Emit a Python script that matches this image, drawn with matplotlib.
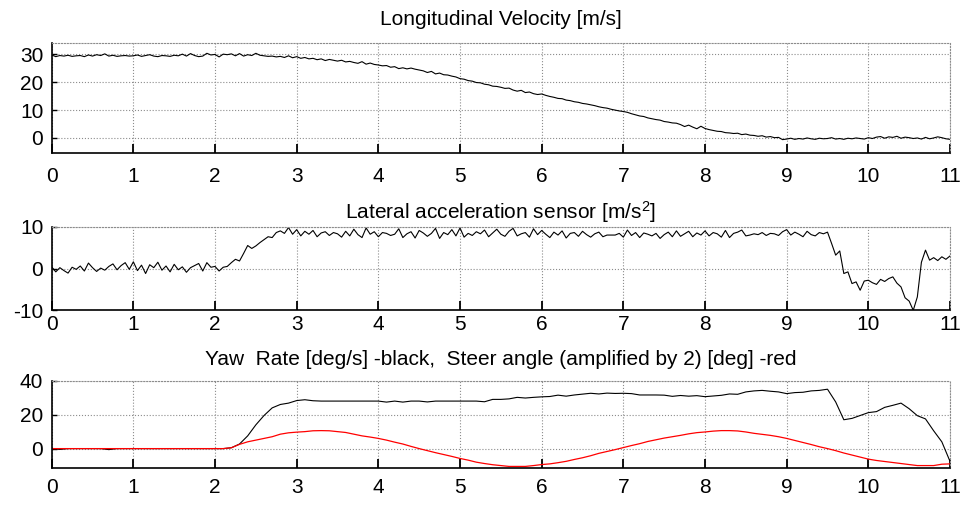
import numpy as np
import matplotlib.pyplot as plt

plt.rcParams['font.family'] = ['Liberation Sans', 'DejaVu Sans']
plt.rcParams['mathtext.fontset'] = 'custom'
plt.rcParams['mathtext.rm'] = 'Liberation Sans'
plt.rcParams['mathtext.default'] = 'regular'
plt.rcParams['axes.unicode_minus'] = False

# --- data (t = 0 .. 11 s) ---
t_fast = np.arange(221) * 0.05
t_slow = np.arange(111) * 0.1

velocity = [
    29.8, 29.2, 29.6, 29.4, 29.7, 29.3, 29.5, 29.6, 29.2, 29.8, 29.4, 29.9, 29.6, 30.2, 29.4, 29.7, 29.3, 29.5, 29.6, 29.4,
    29.5, 29.8, 29.3, 29.6, 29.9, 29.4, 29.2, 29.6, 29.5, 29.3, 29.7, 29.5, 30.1, 29.4, 30.3, 29.6, 29.2, 29.4, 30.4, 29.8,
    30.0, 29.1, 30.1, 29.9, 30.2, 29.5, 30.3, 29.4, 29.9, 29.6, 30.4, 29.7, 29.5, 29.3, 29.4, 29.1, 29.3, 28.9, 29.5, 28.8,
    29.2, 28.6, 28.9, 28.4, 28.6, 28.1, 28.4, 27.8, 28.2, 27.9, 27.6, 27.9, 27.3, 27.5, 27.1, 26.8, 27.4, 26.5, 26.9, 26.4,
    26.2, 25.9, 26.0, 25.4, 25.6, 24.9, 25.2, 24.8, 25.1, 24.7, 24.4, 24.1, 23.5, 23.9, 23.0, 23.3, 22.7, 22.6, 22.2, 21.9,
    21.3, 21.1, 20.6, 20.4, 19.9, 19.8, 19.3, 19.1, 18.6, 18.5, 18.2, 17.8, 17.9, 17.2, 16.8, 17.1, 16.3, 16.5, 15.9, 15.6,
    15.8, 15.3, 14.9, 14.6, 14.2, 14.1, 13.6, 13.4, 13.0, 12.8, 12.4, 12.2, 11.9, 11.6, 11.2, 10.9, 10.7, 10.3, 10.0, 9.7,
    9.5, 9.2, 8.7, 8.3, 7.9, 7.7, 7.2, 6.9, 6.6, 6.4, 5.9, 5.7, 5.4, 5.3, 4.8, 4.1, 4.6, 3.9, 3.3, 4.2,
    3.4, 3.0, 2.7, 2.4, 2.3, 1.9, 1.8, 1.6, 1.7, 1.2, 1.4, 1.0, 0.9, 0.6, 0.8, 0.3, 0.5, 0.1, 0.2, -0.6,
    -0.4, -0.1, -0.5, -0.2, -0.4, 0.0, -0.3, -0.5, -0.1, -0.3, -0.2, 0.1, -0.4, -0.2, -0.5, -0.1, -0.3, 0.0, -0.2, -0.4,
    0.1, -0.2, 0.3, 0.5, -0.1, 0.4, 0.2, 0.6, -0.1, 0.3, 0.1, -0.2, 0.0, -0.4, 0.2, -0.3, 0.0, 0.4, 0.1, -0.3,
    -0.5,
]

lat_acc = [
    0.4, -0.8, 0.2, -0.5, -1.1, 0.3, -0.2, 0.6, -0.6, 1.3, 0.2, -0.7, 0.1, -0.4, 0.5, 1.1, -0.3, 0.7, 1.4, -0.2,
    1.6, -0.5, 0.8, -1.2, 0.9, 0.2, 1.5, -0.4, 0.6, -0.8, 1.0, -0.3, 0.4, -0.9, 0.2, 0.7, 1.2, -0.6, 1.4, 0.3,
    0.5, -0.6, 0.3, 0.5, 1.4, 2.2, 1.8, 3.6, 5.5, 4.8, 5.4, 6.2, 6.9, 7.6, 7.4, 8.6, 9.0, 8.4, 9.8, 8.2,
    9.3, 7.8, 8.9, 8.2, 9.1, 7.6, 8.5, 8.8, 7.9, 8.6, 8.3, 7.5, 8.9, 7.8, 9.4, 8.1, 7.4, 9.7, 8.2, 8.8,
    7.6, 8.6, 8.4, 7.9, 8.2, 9.5, 7.4, 8.3, 8.8, 7.3, 9.1, 8.5, 7.7, 8.4, 9.6, 7.2, 8.6, 8.1, 9.3, 7.8,
    9.7, 7.5, 8.4, 7.9, 8.8, 8.3, 9.2, 7.6, 8.5, 9.4, 8.2, 7.7, 8.9, 9.6, 7.8, 8.3, 8.6, 7.5, 9.5, 8.1,
    9.1, 8.2, 7.4, 8.7, 8.0, 9.0, 7.3, 8.4, 8.6, 7.7, 8.9, 8.1, 7.5, 8.3, 8.7, 7.6, 8.0, 8.0, 8.0, 8.4,
    7.5, 9.2, 7.9, 8.6, 7.4, 8.5, 8.2, 7.8, 8.4, 7.2, 8.1, 8.7, 7.6, 9.0, 7.7, 8.3, 8.9, 7.6, 8.5, 8.0,
    9.0, 7.8, 8.6, 8.3, 7.5, 9.1, 7.4, 8.4, 8.7, 9.2, 7.8, 8.0, 8.3, 8.1, 8.6, 7.9, 8.4, 8.3, 7.9, 8.8,
    9.3, 8.0, 8.7, 8.2, 7.6, 8.9, 8.1, 7.8, 8.6, 8.3, 8.7, 6.0, 3.2, 4.2, -1.2, -0.8, -3.6, -3.2, -5.2, -3.0,
    -2.8, -3.4, -3.8, -2.6, -3.1, -2.4, -2.0, -3.5, -4.4, -7.0, -7.8, -10.0, -6.8, 1.5, 4.4, 2.0, 2.6, 1.9, 2.8, 2.2,
    3.0,
]

yaw_rate = [
    0.0, -0.5, 0.0, 0.0, 0.0, 0.0, 0.0, -0.6, 0.0, 0.0,
    0.0, 0.0, 0.0, 0.0, 0.0, 0.0, 0.0, 0.0, 0.0, 0.0,
    0.0, 0.0, 0.5, 2.7, 7.5, 14.0, 19.5, 24.0, 26.0, 26.8,
    28.3, 28.8, 28.2, 28.0, 28.0, 28.0, 28.0, 28.0, 28.0, 28.0,
    28.0, 27.4, 28.0, 27.4, 28.0, 28.0, 27.5, 28.0, 28.0, 28.0,
    28.0, 28.0, 28.0, 27.6, 29.0, 29.0, 29.3, 30.2, 29.8, 30.2,
    30.5, 30.7, 31.5, 30.9, 31.6, 32.1, 32.6, 32.2, 32.7, 32.5,
    32.6, 32.4, 31.6, 31.6, 31.6, 31.5, 30.8, 31.3, 30.9, 31.2,
    30.6, 31.0, 31.4, 32.2, 32.0, 33.4, 34.0, 34.3, 33.8, 33.4,
    32.4, 33.0, 33.2, 34.0, 34.3, 35.0, 27.5, 17.0, 17.8, 19.5,
    21.2, 21.8, 24.3, 25.5, 26.8, 23.5, 19.4, 17.5, 10.5, 4.0,
    -7.5,
]

steer_x2 = [
    0.0, 0.0, 0.0, 0.0, 0.0, 0.0, 0.0, 0.0, 0.0, 0.0,
    0.0, 0.0, 0.0, 0.0, 0.0, 0.0, 0.0, 0.0, 0.0, 0.0,
    0.0, 0.0, 0.5, 2.5, 4.0, 5.0, 6.0, 7.0, 8.5, 9.3,
    9.7, 10.0, 10.5, 10.6, 10.5, 10.0, 9.5, 8.5, 7.5, 6.8,
    6.0, 5.0, 3.8, 2.7, 1.3, 0.0, -1.2, -2.4, -3.5, -4.6,
    -5.8, -6.8, -8.0, -8.8, -9.5, -10.0, -10.5, -10.5, -10.5, -10.0,
    -9.4, -9.0, -8.3, -7.5, -6.4, -5.4, -4.2, -2.8, -1.7, -0.6,
    0.6, 1.8, 2.9, 4.2, 5.2, 6.2, 7.0, 7.8, 8.7, 9.4,
    9.8, 10.3, 10.6, 10.6, 10.4, 9.8, 9.0, 8.4, 7.8, 7.0,
    6.0, 4.8, 3.6, 2.4, 1.1, 0.0, -1.2, -2.6, -3.8, -5.0,
    -6.2, -7.0, -7.6, -8.2, -8.8, -9.4, -10.0, -10.0, -10.0, -9.2,
    -9.0,
]

x_ticks = list(range(12))

fig = plt.figure(figsize=(9.68, 5.05), dpi=100)
ax1 = fig.add_axes([0.0534, 0.6976, 0.928, 0.2167])
ax2 = fig.add_axes([0.0534, 0.3855, 0.928, 0.1656])
ax3 = fig.add_axes([0.0534, 0.0727, 0.928, 0.1734])

ax1.plot(t_fast, velocity, color='black', lw=0.8)
ax2.plot(t_fast, lat_acc, color='black', lw=0.8)
ax3.plot(t_slow, yaw_rate, color='black', lw=0.8)
ax3.plot(t_slow, steer_x2, color='red', lw=0.9)

ax1.set_ylim(-5.3, 34)
ax1.set_yticks([0, 10, 20, 30])
ax2.set_ylim(-10, 10)
ax2.set_yticks([-10, 0, 10])
ax3.set_ylim(-11.6, 40)
ax3.set_yticks([0, 20, 40])

ax1.set_title('Longitudinal Velocity [m/s]', fontsize=15, pad=13)
ax2.set_title('Lateral acceleration sensor [m/s$^2$]', fontsize=15, pad=6)
ax3.set_title('Yaw  Rate [deg/s] -black,  Steer angle (amplified by 2) [deg] -red',
              fontsize=15, pad=11)

for ax, xpad in [(ax1, 10), (ax2, 3.5), (ax3, 7)]:
    ax.set_xlim(0, 11)
    ax.set_xticks(x_ticks)
    ax.grid(True, color='#8c8c8c', linestyle=':', linewidth=0.8)
    ax.tick_params(axis='x', direction='in', length=6.5, width=1.3,
                   labelsize=15, pad=xpad)
    ax.tick_params(axis='y', direction='in', length=3.5, width=1.0,
                   labelsize=15, pad=6)
    for side in ['top', 'right']:
        ax.spines[side].set_color('#8c8c8c')
        ax.spines[side].set_linestyle(':')
        ax.spines[side].set_linewidth(0.8)
    for side in ['bottom', 'left']:
        ax.spines[side].set_linewidth(1.2)

fig.savefig('out.png', dpi=100)
